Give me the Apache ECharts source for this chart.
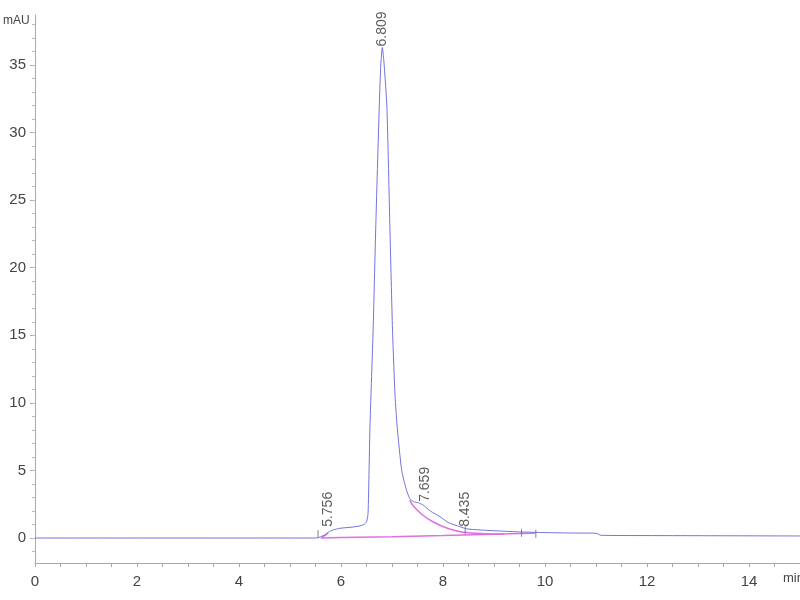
<!DOCTYPE html>
<html>
<head>
<meta charset="utf-8">
<script src="https://cdn.jsdelivr.net/npm/echarts@6/dist/echarts.min.js"></script>
<style>html,body{margin:0;padding:0;background:#fff}#c{width:800px;height:600px}</style>
</head>
<body>
<div id="c"></div>
<script>
// Chromatogram trace (min, mAU)
const traceTime   = [0, 5.5, 5.55, 5.6, 5.69, 5.76, 5.84, 5.98, 6.18, 6.35, 6.45, 6.5, 6.53, 6.55, 6.57, 6.63, 6.68, 6.75, 6.78, 6.81, 6.84, 6.9, 6.96, 7.01, 7.06, 7.1, 7.19, 7.28, 7.35, 7.42, 7.52, 7.61, 7.75, 7.94, 8.1, 8.33, 8.46, 8.7, 9.1, 9.5, 10, 10.5, 11.0, 11.1, 12, 13, 15];
const traceSignal = [0, 0, 0.02, 0.1, 0.22, 0.45, 0.59, 0.72, 0.79, 0.88, 1.0, 1.2, 1.8, 5.0, 8.5, 15.4, 22.8, 31.9, 35.0, 36.3, 35.3, 31.9, 22.8, 15.4, 10.5, 8.3, 5.0, 3.6, 2.9, 2.7, 2.6, 2.44, 2.0, 1.58, 1.15, 0.84, 0.68, 0.6, 0.52, 0.45, 0.4, 0.37, 0.35, 0.2, 0.18, 0.17, 0.15];
// Integration baseline
const baseTime   = [5.6, 6.0, 7.0, 8.0, 8.4, 9.0, 9.5, 9.8];
const baseSignal = [0, 0.04, 0.1, 0.18, 0.22, 0.28, 0.33, 0.35];
// Tail skim of main peak
const tailTime   = [7.35, 7.41, 7.6, 7.8, 8.1, 8.4, 8.8, 9.2];
const tailSignal = [2.8, 2.4, 1.7, 1.2, 0.7, 0.42, 0.32, 0.3];
// Small drop line at first peak
const dropTime   = [5.62, 5.75];
const dropSignal = [0.02, 0.38];
// Peak labels
const peakTimes   = [5.756, 6.809, 7.659, 8.435];
const peakHeights = [0.75, 36.3, 2.6, 0.75];
const peakLabels  = ['5.756', '6.809', '7.659', '8.435'];
// Integration event marks
const eventTimes   = [5.55, 8.435, 9.54, 9.82];
const eventHeights = [0.3, 0.55, 0.38, 0.32];
// Axis ticks
const xLabelValues = [0, 2, 4, 6, 8, 10, 12, 14];
const xTickValues = [];
for (let i = 0; i <= 30; i++) xTickValues.push(i * 0.5);
const yLabelValues = [0, 5, 10, 15, 20, 25, 30, 35];
const yMinorValues = [];
for (let i = -1; i <= 38; i++) yMinorValues.push(i);

const zip = (a, b) => a.map((v, i) => [v, b[i]]);

const chart = echarts.init(document.getElementById('c'), null, {renderer: 'canvas'});
const axisFont = {fontFamily: 'Liberation Sans Narrow, Arial Narrow, sans-serif', fontSize: 15, color: '#444'};
chart.setOption({
  animation: false,
  backgroundColor: '#fff',
  grid: {left: 35, right: 0, top: 15, bottom: 37},
  xAxis: {
    type: 'value', min: 0, max: 15,
    axisLine: {show: true, onZero: false, lineStyle: {color: '#aaa', width: 1}},
    axisTick: {show: true, customValues: xTickValues, length: 4, lineStyle: {color: '#aaa'}},
    axisLabel: Object.assign({customValues: xLabelValues, margin: 11}, axisFont),
    splitLine: {show: false}
  },
  yAxis: [{
    type: 'value', min: -1.85, max: 38.7,
    axisLine: {show: true, onZero: false, lineStyle: {color: '#aaa', width: 1}},
    axisTick: {show: true, customValues: yLabelValues, length: 5, lineStyle: {color: '#aaa'}},
    axisLabel: Object.assign({customValues: yLabelValues, margin: 9}, axisFont),
    splitLine: {show: false}
  }, {
    type: 'value', min: -1.85, max: 38.7, position: 'left',
    axisLine: {show: false},
    axisTick: {show: true, customValues: yMinorValues, length: 3, lineStyle: {color: '#bbb'}},
    axisLabel: {show: false},
    splitLine: {show: false}
  }],
  graphic: [
    {type: 'text', left: 3, top: 15, style: {text: 'mAU', fontFamily: 'Liberation Sans Narrow, sans-serif', fontSize: 12, fill: '#444'}},
    {type: 'text', left: 783, top: 572, style: {text: 'min', fontFamily: 'Liberation Sans Narrow, sans-serif', fontSize: 13, fill: '#444'}}
  ],
  series: [
    {type: 'line', data: zip(baseTime, baseSignal), showSymbol: false, lineStyle: {color: '#e070e0', width: 1.5}, z: 2},
    {type: 'line', data: zip(tailTime, tailSignal), smooth: 0.3, showSymbol: false, lineStyle: {color: '#e070e0', width: 1.5}, z: 2},
    {type: 'line', data: zip(dropTime, dropSignal), showSymbol: false, lineStyle: {color: '#e070e0', width: 1.5}, z: 2},
    {type: 'line', data: zip(traceTime, traceSignal), smooth: 0.2, showSymbol: false, lineStyle: {color: '#7373dc', width: 1}, z: 3},
    {type: 'scatter', data: zip(eventTimes, eventHeights), symbol: 'rect', symbolSize: [1, 8], itemStyle: {color: '#666'}, z: 4},
    {type: 'scatter', data: zip(peakTimes, peakHeights).map((d, i) => ({value: d, name: peakLabels[i]})),
      symbolSize: 0, z: 5,
      label: {show: true, formatter: p => p.name, position: 'top', distance: 1, rotate: 90, align: 'left', verticalAlign: 'middle',
        fontFamily: 'Liberation Sans, Arial, sans-serif', fontSize: 14, color: '#333'}}
  ]
});
</script>
</body>
</html>
